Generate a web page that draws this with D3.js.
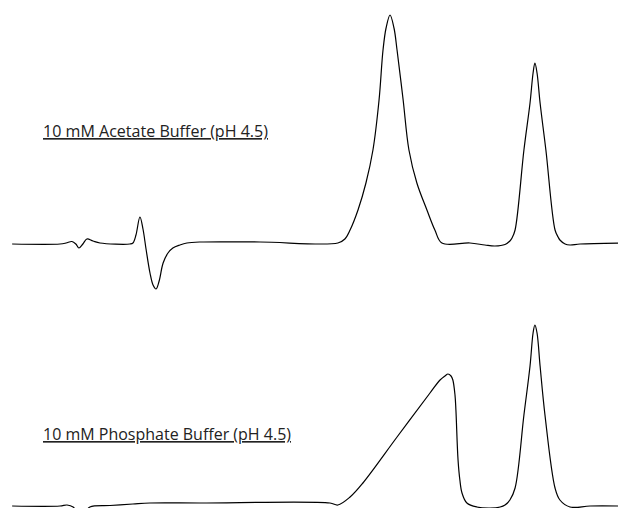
<!DOCTYPE html>
<html>
<head>
<meta charset="utf-8">
<script src="https://cdn.jsdelivr.net/npm/d3@7"></script>
<style>
  body { margin: 0; background: #fff; }
  .trace { fill: none; stroke: #000; stroke-width: 1.2; }
  .label { font-family: "Open Sans", sans-serif; font-size: 16.5px; fill: #222; text-decoration: underline; }
</style>
</head>
<body>
<div id="chart"></div>
<script>
// chromatograms, retention time in min, signal in mAU (relative to baseline)
const acetateTime = [0.07, 1.64, 1.84, 2.03, 2.16, 2.26, 2.39, 2.52, 2.72, 2.95, 3.93, 4.03, 4.13, 4.26, 4.36, 4.46, 4.59, 4.69, 4.79, 4.89, 5.02, 5.18, 5.34, 5.57, 5.80, 6.23, 8.20, 10.75, 10.98, 11.15, 11.41, 11.67, 11.90, 12.10, 12.23, 12.33, 12.46, 12.59, 12.69, 12.89, 13.08, 13.34, 13.67, 13.93, 14.16, 15.08, 15.57, 15.90, 16.23, 16.39, 16.46, 16.56, 16.85, 17.05, 17.15, 17.21, 17.28, 17.38, 17.57, 17.87, 17.97, 18.03, 18.20, 18.36, 18.69, 20];
const acetateSignal = [-1, -1, 0, 1.5, -1, -5, -1, 4, 2, 0, -1, 0, 8, 26, 14, -6, -30, -42, -46, -38, -20, -10, -5, -2, 0, 1, 1, 0, 4, 13, 33, 60, 93, 143, 193, 215, 228, 215, 193, 143, 93, 60, 33, 13, 0, 0, -2, -3, -1.5, 2, 5, 13, 93, 140, 170, 180, 170, 140, 93, 13, 6, 3, -1, -2, -1, 0];

const phosphateTime = [0.07, 1.64, 1.87, 2.07, 2.23, 2.43, 2.62, 3.28, 4.03, 4.59, 6.23, 10.49, 10.75, 11.15, 11.57, 12.69, 13.77, 14.10, 14.26, 14.36, 14.46, 14.52, 14.59, 14.62, 14.69, 14.75, 14.82, 14.98, 15.31, 15.74, 16.07, 16.23, 16.39, 16.56, 16.85, 17.05, 17.15, 17.21, 17.28, 17.38, 17.54, 17.87, 18.03, 18.36, 19.02, 20];
const phosphateSignal = [-1, -1, 0, -2, -8, -8, -2, -0.5, 1, 2, 2, 2, 0, 8, 22, 68, 112, 125, 129, 131, 129, 125, 110, 95, 45, 25, 12, 2, -2, -3, -2, 0, 5, 17, 90, 139, 172, 180, 172, 139, 90, 17, 5, -2, -1, -1];

const labels = ["10 mM Acetate Buffer (pH 4.5)", "10 mM Phosphate Buffer (pH 4.5)"];

const width = 618;
const height = 508;

const svg = d3.select("#chart").append("svg")
  .attr("width", width)
  .attr("height", height);

const x = d3.scaleLinear().domain([0, 20]).range([10, 620]);

const yTop = d3.scaleLinear().domain([0, 228]).range([243, 15]);
const yBottom = d3.scaleLinear().domain([0, 180]).range([505, 325]);

const panels = [
  { t: acetateTime, s: acetateSignal, y: yTop, label: labels[0], labelY: 137, labelW: 225 },
  { t: phosphateTime, s: phosphateSignal, y: yBottom, label: labels[1], labelY: 440, labelW: 248 }
];

panels.forEach(p => {
  const pts = p.t.map((t, i) => [t, p.s[i]]);
  const line = d3.line()
    .x(d => x(d[0]))
    .y(d => p.y(d[1]))
    .curve(d3.curveCatmullRom.alpha(0.5));

  svg.append("path")
    .datum(pts)
    .attr("class", "trace")
    .attr("d", line);

  svg.append("text")
    .attr("class", "label")
    .attr("x", 43)
    .attr("y", p.labelY)
    .attr("textLength", p.labelW)
    .attr("lengthAdjust", "spacingAndGlyphs")
    .text(p.label);
});
</script>
</body>
</html>
